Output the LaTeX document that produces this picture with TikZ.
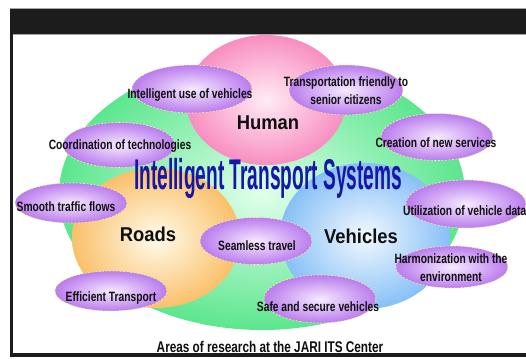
\documentclass[tikz,border=0pt]{standalone}
\usepackage{fontspec}
\setmainfont{Liberation Sans}
\newfontfamily\lblfont[FakeStretch=0.76]{Liberation Sans}
\newfontfamily\titlefont[FakeStretch=0.445]{Liberation Sans}
\newfontfamily\bigfont[FakeStretch=0.92]{Liberation Sans}
\usetikzlibrary{shapes.geometric}
\definecolor{txt}{RGB}{15,15,15}
\definecolor{ttl}{RGB}{22,22,168}
\definecolor{grO}{RGB}{92,230,142}
\definecolor{grI}{RGB}{225,255,235}
\definecolor{pkO}{RGB}{248,142,192}
\definecolor{pkI}{RGB}{255,236,245}
\definecolor{orO}{RGB}{250,192,105}
\definecolor{orI}{RGB}{255,251,236}
\definecolor{blO}{RGB}{135,192,246}
\definecolor{blI}{RGB}{242,249,255}
\definecolor{puO}{RGB}{186,124,238}
\definecolor{puI}{RGB}{246,234,255}
\definecolor{dashc}{RGB}{250,240,150}
\definecolor{barc}{RGB}{28,28,28}
\tikzset{
  area/.style={ellipse, inner sep=0pt, shading=radial},
  bubble/.style={ellipse, inner sep=0pt, draw=dashc, dash pattern=on 2pt off 1.5pt, line width=0.6pt, shading=radial, inner color=puI, outer color=puO},
  lbl/.style={inner sep=0pt, anchor=base, text=txt, align=center, font=\lblfont\bfseries\fontsize{13.5}{18}\selectfont},
  biglbl/.style={inner sep=0pt, anchor=base, text=txt, font=\bigfont\bfseries\fontsize{20}{24}\selectfont},
  ttlstyle/.style={inner sep=0pt, anchor=base, text=ttl, font=\titlefont\bfseries\fontsize{43}{50}\selectfont},
  capstyle/.style={inner sep=0pt, anchor=base, text=txt, font=\lblfont\bfseries\fontsize{15.5}{18}\selectfont}
}
\begin{document}
\begin{tikzpicture}[x=1pt,y=-1pt]
\useasboundingbox (0,0) rectangle (526,358);
\clip (0,0) rectangle (526,358);
\fill[white] (0,0) rectangle (526,358);
% main areas
\node[area, minimum width=406pt, minimum height=272pt, inner color=grI, outer color=grO] (green) at (262,194) {};
\node[area, minimum width=160pt, minimum height=130pt, inner color=pkI, outer color=pkO] (pink) at (266,100) {};
\node[area, minimum width=168pt, minimum height=140pt, inner color=orI, outer color=orO] (orange) at (156,238) {};
\node[area, minimum width=170pt, minimum height=146pt, inner color=blI, outer color=blO] (blue) at (365,236) {};
% bubbles
\node[bubble, minimum width=120pt, minimum height=48pt] (b1) at (192,89) {};
\node[bubble, minimum width=112pt, minimum height=45pt] (b2) at (119,145) {};
\node[bubble, minimum width=114pt, minimum height=50pt] (b3) at (346,90) {};
\node[bubble, minimum width=112pt, minimum height=47pt] (b4) at (437,137) {};
\node[bubble, minimum width=112pt, minimum height=40pt] (b5) at (71,203) {};
\node[bubble, minimum width=112pt, minimum height=40pt] (b6) at (111,291) {};
\node[bubble, minimum width=112pt, minimum height=47pt] (b7) at (256,241) {};
\node[bubble, minimum width=120pt, minimum height=48pt] (b8) at (466,204) {};
\node[bubble, minimum width=112pt, minimum height=42pt] (b9) at (452,267) {};
\node[bubble, minimum width=112pt, minimum height=48pt] (b10) at (320,299) {};
% bubble texts
\node[lbl] (t1) at (190,99) {Intelligent use of vehicles};
\node[lbl] (t2) at (120,149) {Coordination of technologies};
\node[lbl] (t3a) at (346,87) {Transportation friendly to};
\node[lbl] (t3b) at (346,105) {senior citizens};
\node[lbl] (t4) at (436,147) {Creation of new services};
\node[lbl] (t5) at (66,211) {Smooth traffic flows};
\node[lbl] (t6) at (111,301) {Efficient Transport};
\node[lbl] (t7) at (257,250) {Seamless travel};
\node[lbl, anchor=base west] (t8) at (403,215) {Utilization of vehicle data};
\node[lbl] (t9a) at (451,263) {Harmonization with the};
\node[lbl] (t9b) at (451,281) {environment};
\node[lbl] (t10) at (318,311) {Safe and secure vehicles};
% area labels
\node[biglbl] (human) at (268,130) {Human};
\node[biglbl] (roads) at (148,241) {Roads};
\node[biglbl] (vehicles) at (361,243) {Vehicles};
% title
\node[ttlstyle] (title) at (268,189) {Intelligent Transport Systems};
% frame
\fill[barc] (10,8) rectangle (526,34);
\draw[gray!70, line width=0.6pt] (10,8.3) -- (526,8.3);
\draw[gray!70, line width=0.8pt] (13,34) -- (526,34);
\fill[barc] (10,34) rectangle (13,357);
\fill[barc] (10,353) rectangle (526,357);
% caption
\node[capstyle] (cap) at (270,352.5) {Areas of research at the JARI ITS Center};
\end{tikzpicture}
\end{document}
